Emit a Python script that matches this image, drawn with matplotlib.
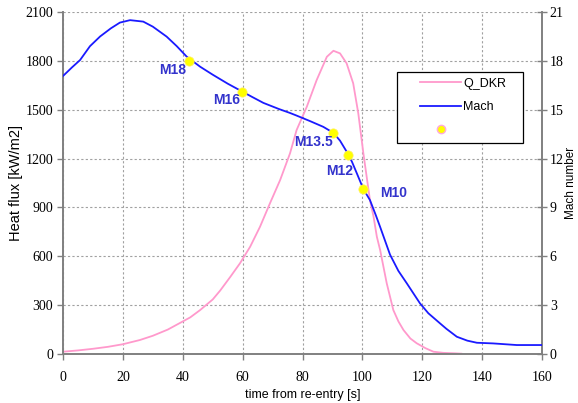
import matplotlib
matplotlib.use("Agg")
import matplotlib.pyplot as plt
from matplotlib.lines import Line2D
from matplotlib.patches import Rectangle

# Heat flux Q_DKR (kW/m2) vs time (s)
t_q = [0, 5, 10, 15, 20, 25.7, 30, 35, 39, 42.5, 45.8, 50, 52.5, 55.8, 59.1, 62.5, 65.8, 69.1, 72.5, 75.8, 78, 81.4, 84.7, 88.1, 90.3, 92.5, 94.7, 96.9, 98.6, 100.3, 102.5, 103.7, 104.8, 105.9, 108.1, 110.3, 112, 113.7, 116, 118.1, 121, 123.7, 127, 131, 133]
q = [14, 22, 32, 44, 60, 86, 112, 150, 190, 225, 270, 335, 390, 472, 557, 659, 782, 925, 1068, 1232, 1375, 1518, 1682, 1825, 1862, 1846, 1785, 1662, 1478, 1232, 945, 843, 720, 638, 434, 270, 200, 147, 95, 66, 36, 14, 7, 4, 2]

# Mach number vs time (s)
t_m = [0, 3, 5.7, 9, 12.4, 16, 19, 22.4, 26.8, 30, 34.6, 38, 41.3, 45.8, 50, 55, 59, 63, 66.9, 72, 75.8, 78, 82.5, 86.9, 90.3, 92.5, 94.8, 96.5, 98.1, 100.3, 102.5, 104.5, 105.9, 109.2, 112, 114.8, 119.2, 122, 125.9, 128, 131.5, 135, 138.2, 143.6, 146, 151.5, 155, 160]
mach = [17.07, 17.6, 18.05, 18.9, 19.5, 20.0, 20.35, 20.5, 20.41, 20.1, 19.49, 18.9, 18.26, 17.64, 17.15, 16.6, 16.2, 15.8, 15.42, 15.05, 14.8, 14.64, 14.3, 13.95, 13.58, 13.1, 12.4, 11.8, 11.1, 10.13, 9.45, 8.5, 7.8, 6.1, 5.1, 4.34, 3.11, 2.5, 1.88, 1.55, 1.06, 0.82, 0.69, 0.65, 0.62, 0.55, 0.55, 0.55]

# Marked Mach points
mark_t = [42.2, 59.9, 90.3, 95.3, 100.3]
mark_m = [18.0, 16.07, 13.58, 12.21, 10.13]
mark_labels = ["M18", "M16", "M13.5", "M12", "M10"]
label_offsets = [(-17, -9), (-16, -8), (-20, -9), (-9, -16), (30, -4)]  # pixels

pink = "#ff99cc"
blue = "#1a1aff"
lblue = "#3333cc"
gray = "#808080"
serif = "Liberation Serif"
sans = "Liberation Sans"

fig = plt.figure(figsize=(5.78, 4.03), dpi=100)
ax = fig.add_axes([0.109, 0.1216, 0.829, 0.8486])
ax2 = ax.twinx()

ax.plot(t_q, q, color=pink, lw=1.3)
ax.set_xlim(0, 160)
ax.set_ylim(0, 2100)
ax.set_xticks(range(0, 161, 20))
ax.set_yticks(range(0, 2101, 300))
ax.grid(True, color="#a0a0a0", linestyle=(0, (2, 2)), linewidth=0.8)

ax2.plot(t_m, mach, color=blue, lw=1.3, zorder=3)
ax2.scatter(mark_t, mark_m, s=45, color="#ffff00", edgecolors="#ffee66", linewidths=0.5, zorder=5)
ax2.set_ylim(0, 21)
ax2.set_yticks(range(0, 22, 3))
for tt, mm, lab, (dx, dy) in zip(mark_t, mark_m, mark_labels, label_offsets):
    ax2.annotate(lab, (tt, mm), xytext=(dx, dy), textcoords="offset pixels",
                 ha="center", va="center", color=lblue, fontsize=10,
                 fontweight="bold", family=sans, zorder=6)

for a in (ax, ax2):
    a.spines["top"].set_visible(False)
    for s in ("left", "right", "bottom"):
        a.spines[s].set_color(gray)
        a.spines[s].set_linewidth(1.2)
    a.tick_params(colors="black", labelsize=10, length=4, width=1, color=gray)
    for lab in a.get_xticklabels() + a.get_yticklabels():
        lab.set_family(serif)
ax2.tick_params(axis="y", direction="inout", length=7, pad=2)
ax.tick_params(axis="x", pad=8)
ax.tick_params(axis="y", pad=3)

ax.set_xlabel("time from re-entry [s]", fontsize=9, family=sans, labelpad=4)
ax.set_ylabel("Heat flux [kW/m2]", fontsize=10.5, family=sans, labelpad=2)
ax2.set_ylabel("Mach number", fontsize=8.5, family=sans, labelpad=1)

# legend box
ax2.add_patch(Rectangle((0.6973, 0.617), 0.263, 0.2076, transform=ax2.transAxes,
                        facecolor="white", edgecolor="black", lw=0.9, zorder=7))
handles = [Line2D([], [], color=pink, lw=1.3),
           Line2D([], [], color=blue, lw=1.3),
           Line2D([], [], ls="none", marker="o", markersize=6, markerfacecolor="#ffff00", markeredgecolor="#ffaadd")]
leg = ax2.legend(handles, ["Q_DKR", "Mach", ""], loc="upper left",
                 bbox_to_anchor=(0.745, 0.808), frameon=False, borderaxespad=0, borderpad=0,
                 prop={"family": sans, "size": 9}, handlelength=3.3, handletextpad=0.15,
                 labelspacing=0.9)
leg.set_zorder(8)

fig.savefig("out.png", dpi=100)
